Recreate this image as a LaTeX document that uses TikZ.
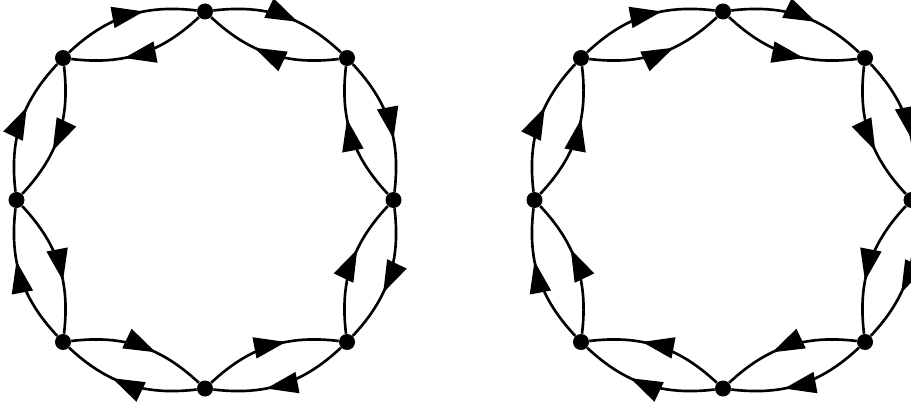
\documentclass[tikz,border=0pt]{standalone}
\usepackage{tikz}
\usetikzlibrary{arrows.meta, decorations.markings}
\tikzset{
  vtx/.style={circle, fill, inner sep=0pt, minimum size=0.32cm},
  flow/.style={line width=1.5pt, postaction={decorate},
               decoration={markings, mark=at position 0.62 with
                 {\arrow{Triangle[length=0.64cm, width=0.42cm]}}}},
}

\begin{document}
\begin{tikzpicture}

  \useasboundingbox (0,0) rectangle (18.22,8.02);

  % two rings of eight vertices
  \foreach \g/\cx in {l/4.1, r/14.46} {
    \foreach \i/\dx/\dy in {1/0/3.77, 2/2.84/2.84, 3/3.77/0, 4/2.84/-2.84,
                            5/0/-3.77, 6/-2.84/-2.84, 7/-3.77/0, 8/-2.84/2.84}
      \node[vtx] (\g\i) at (\cx+\dx, 4.02+\dy) {};
  }

  % left ring: outer arcs clockwise, inner arcs counter-clockwise
  \foreach \i/\j in {1/2, 2/3, 3/4, 4/5, 5/6, 6/7, 7/8, 8/1} {
    \draw[flow] (l\i) to[bend left=25] (l\j);
    \draw[flow] (l\j) to[bend left=25] (l\i);
  }

  % right ring: both arcs clockwise
  \foreach \i/\j in {1/2, 2/3, 3/4, 4/5, 5/6, 6/7, 7/8, 8/1} {
    \draw[flow] (r\i) to[bend left=25] (r\j);
    \draw[flow] (r\i) to[bend right=25] (r\j);
  }

\end{tikzpicture}
\end{document}
